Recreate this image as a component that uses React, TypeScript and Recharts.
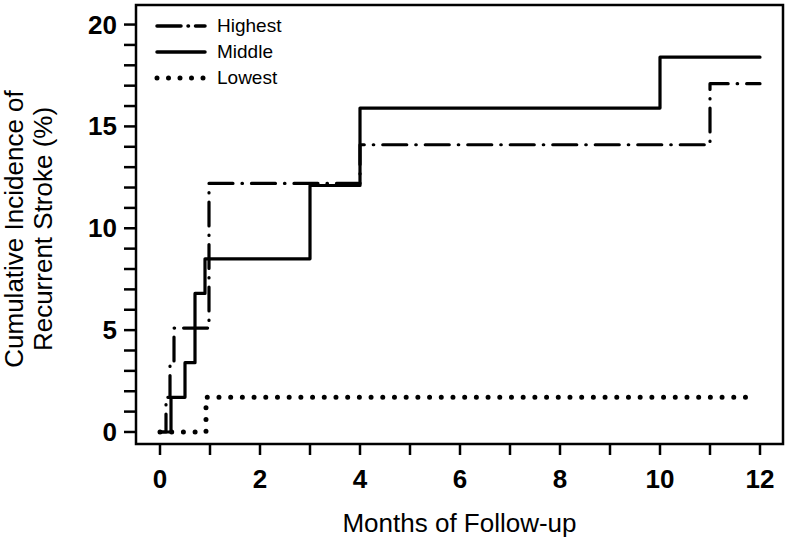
import { LineChart, Line, XAxis, YAxis, ReferenceArea, Legend } from "recharts";

// step times (months) and cumulative incidence (%)
const HIGHEST_T = [0, 0.12, 0.2, 0.28, 0.98, 4.0, 11.0, 12.0];
const HIGHEST_V = [0, 1.7, 3.4, 5.1, 12.2, 14.1, 17.1, 17.1];
const MIDDLE_T = [0, 0.22, 0.5, 0.7, 0.9, 3.0, 4.0, 10.0, 12.0];
const MIDDLE_V = [0, 1.7, 3.4, 6.8, 8.5, 12.1, 15.9, 18.4, 18.4];
const LOWEST_T = [0, 0.92, 11.8];
const LOWEST_V = [0, 1.7, 1.7];

const X_TICKS = [0, 1, 2, 3, 4, 5, 6, 7, 8, 9, 10, 11, 12];
const Y_TICKS = [0, 1, 2, 3, 4, 5, 6, 7, 8, 9, 10, 11, 12, 13, 14, 15, 16, 17, 18, 19, 20];
const X_DOMAIN = [-0.48, 12.46];
const Y_DOMAIN = [-0.59, 20.96];

const FONT = "'Liberation Sans', Arial, Helvetica, sans-serif";

const toRows = (t: number[], v: number[]) => t.map((x, i) => ({ t: x, v: v[i] }));

const SERIES = [
  { name: "Highest", data: toRows(HIGHEST_T, HIGHEST_V), dash: "24 9 0.5 9", width: 3.2 },
  { name: "Middle", data: toRows(MIDDLE_T, MIDDLE_V), dash: undefined, width: 3.2 },
  { name: "Lowest", data: toRows(LOWEST_T, LOWEST_V), dash: "0 11.7", width: 5 },
];

const XTick = (props: any) => {
  const { x, y, payload } = props;
  if (payload.value % 2 !== 0) return <g />;
  return (
    <text x={x} y={y} dy={31} textAnchor="middle" fontSize={26} fontWeight="bold" fontFamily={FONT} fill="#000">
      {payload.value}
    </text>
  );
};

const YTick = (props: any) => {
  const { x, y, payload } = props;
  if (payload.value % 5 !== 0) return <g />;
  return (
    <text x={x - 5} y={y} dy={9} textAnchor="end" fontSize={26} fontWeight="bold" fontFamily={FONT} fill="#000">
      {payload.value}
    </text>
  );
};

const LegendBox = () => (
  <div style={{ fontFamily: FONT, fontSize: 19, color: "#000" }}>
    {SERIES.map((s) => (
      <div key={s.name} style={{ display: "flex", alignItems: "center", height: 26 }}>
        <svg width={60} height={20}>
          <line
            x1={7}
            x2={55}
            y1={10}
            y2={10}
            stroke="#000"
            strokeWidth={s.name === "Lowest" ? 5 : 3.5}
            strokeDasharray={s.name === "Highest" ? "24 7 0.5 7" : s.name === "Lowest" ? "0 11.5" : undefined}
            strokeLinecap="round"
          />
        </svg>
        <span style={{ marginLeft: 7 }}>{s.name}</span>
      </div>
    ))}
  </div>
);

export default function App() {
  return (
    <div style={{ position: "absolute", left: 0, top: 0 }}>
      <LineChart width={789} height={539} margin={{ top: 5, right: 6, bottom: 0, left: 0 }}>
        <XAxis
          type="number"
          dataKey="t"
          domain={X_DOMAIN}
          ticks={X_TICKS}
          allowDataOverflow
          axisLine={false}
          tickLine={{ stroke: "#000", strokeWidth: 2.5 }}
          tickSize={11}
          tick={<XTick />}
          height={95}
          interval={0}
          label={{
            content: (p: any) => {
              const vb = p.viewBox;
              return (
                <text x={vb.x + vb.width / 2} y={vb.y + 88} textAnchor="middle" fontSize={26} fontFamily={FONT} fill="#000">
                  Months of Follow-up
                </text>
              );
            },
          }}
        />
        <YAxis
          type="number"
          domain={Y_DOMAIN}
          ticks={Y_TICKS}
          allowDataOverflow
          axisLine={false}
          tickLine={{ stroke: "#000", strokeWidth: 2.5 }}
          tickSize={12}
          tick={<YTick />}
          width={136}
          interval={0}
          label={{
            content: () => (
              <text transform="rotate(-90, 0, 229)" x={0} y={229} textAnchor="middle" fontSize={26} fontFamily={FONT} fill="#000">
                <tspan x={0} dy={23}>Cumulative Incidence of</tspan>
                <tspan x={0} dy={29}>Recurrent Stroke (%)</tspan>
              </text>
            ),
          }}
        />
        <ReferenceArea
          x1={X_DOMAIN[0]}
          x2={X_DOMAIN[1]}
          y1={Y_DOMAIN[0]}
          y2={Y_DOMAIN[1]}
          fill="none"
          fillOpacity={0}
          stroke="#000"
          strokeWidth={2.5}
          ifOverflow="visible"
        />
        <Legend
          layout="vertical"
          align="center"
          verticalAlign="middle"
          wrapperStyle={{ left: 150, top: 13, width: "auto" }}
          content={() => <LegendBox />}
        />
        {SERIES.map((s) => (
          <Line
            key={s.name}
            name={s.name}
            data={s.data}
            dataKey="v"
            type="stepAfter"
            stroke="#000"
            strokeWidth={s.width}
            strokeDasharray={s.dash}
            strokeLinecap="round"
            strokeLinejoin="round"
            dot={false}
            activeDot={false}
            isAnimationActive={false}
          />
        ))}
      </LineChart>
    </div>
  );
}
